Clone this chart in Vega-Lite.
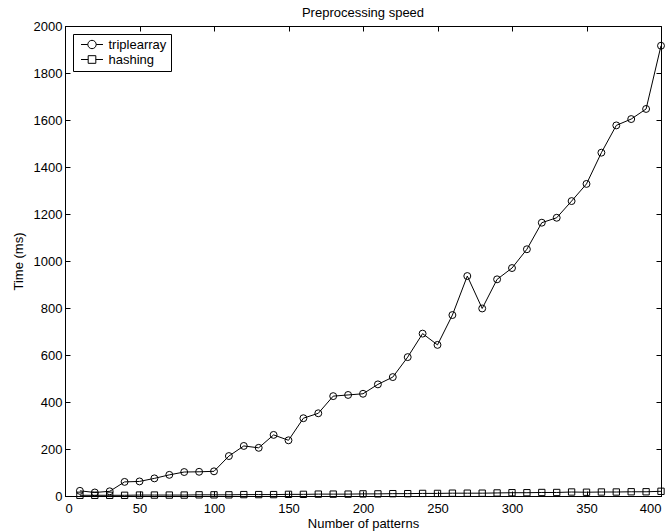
{
  "$schema": "https://vega.github.io/schema/vega-lite/v6.json",
  "width": 596,
  "height": 470,
  "autosize": {"type": "none"},
  "padding": {"left": 65, "top": 26, "right": 11, "bottom": 35},
  "title": {"text": "Preprocessing speed", "fontSize": 13, "font": "Liberation Sans", "fontWeight": "normal", "color": "black", "offset": 0},
  "config": {
    "font": "Liberation Sans",
    "view": {"stroke": "black", "strokeWidth": 1},
    "axis": {"labelFont": "Liberation Sans", "titleFont": "Liberation Sans", "labelFontSize": 13, "titleFontSize": 13, "titleFontWeight": "normal", "labelColor": "black", "titleColor": "black", "domainColor": "black", "tickColor": "black", "grid": false, "format": "d"}
  },
  "data": {"values": [
    {"n": 10, "t": 22, "s": "triplearray"},
    {"n": 20, "t": 15, "s": "triplearray"},
    {"n": 30, "t": 20, "s": "triplearray"},
    {"n": 40, "t": 60, "s": "triplearray"},
    {"n": 50, "t": 62, "s": "triplearray"},
    {"n": 60, "t": 75, "s": "triplearray"},
    {"n": 70, "t": 90, "s": "triplearray"},
    {"n": 80, "t": 102, "s": "triplearray"},
    {"n": 90, "t": 103, "s": "triplearray"},
    {"n": 100, "t": 105, "s": "triplearray"},
    {"n": 110, "t": 170, "s": "triplearray"},
    {"n": 120, "t": 213, "s": "triplearray"},
    {"n": 130, "t": 205, "s": "triplearray"},
    {"n": 140, "t": 260, "s": "triplearray"},
    {"n": 150, "t": 237, "s": "triplearray"},
    {"n": 160, "t": 331, "s": "triplearray"},
    {"n": 170, "t": 352, "s": "triplearray"},
    {"n": 180, "t": 425, "s": "triplearray"},
    {"n": 190, "t": 430, "s": "triplearray"},
    {"n": 200, "t": 435, "s": "triplearray"},
    {"n": 210, "t": 475, "s": "triplearray"},
    {"n": 220, "t": 506, "s": "triplearray"},
    {"n": 230, "t": 591, "s": "triplearray"},
    {"n": 240, "t": 691, "s": "triplearray"},
    {"n": 250, "t": 643, "s": "triplearray"},
    {"n": 260, "t": 770, "s": "triplearray"},
    {"n": 270, "t": 936, "s": "triplearray"},
    {"n": 280, "t": 798, "s": "triplearray"},
    {"n": 290, "t": 922, "s": "triplearray"},
    {"n": 300, "t": 970, "s": "triplearray"},
    {"n": 310, "t": 1050, "s": "triplearray"},
    {"n": 320, "t": 1163, "s": "triplearray"},
    {"n": 330, "t": 1184, "s": "triplearray"},
    {"n": 340, "t": 1255, "s": "triplearray"},
    {"n": 350, "t": 1328, "s": "triplearray"},
    {"n": 360, "t": 1461, "s": "triplearray"},
    {"n": 370, "t": 1577, "s": "triplearray"},
    {"n": 380, "t": 1604, "s": "triplearray"},
    {"n": 390, "t": 1647, "s": "triplearray"},
    {"n": 400, "t": 1916, "s": "triplearray"},
    {"n": 10, "t": 3, "s": "hashing"},
    {"n": 20, "t": 3, "s": "hashing"},
    {"n": 30, "t": 3, "s": "hashing"},
    {"n": 40, "t": 3, "s": "hashing"},
    {"n": 50, "t": 4, "s": "hashing"},
    {"n": 60, "t": 4, "s": "hashing"},
    {"n": 70, "t": 4, "s": "hashing"},
    {"n": 80, "t": 4, "s": "hashing"},
    {"n": 90, "t": 5, "s": "hashing"},
    {"n": 100, "t": 5, "s": "hashing"},
    {"n": 110, "t": 5, "s": "hashing"},
    {"n": 120, "t": 6, "s": "hashing"},
    {"n": 130, "t": 6, "s": "hashing"},
    {"n": 140, "t": 6, "s": "hashing"},
    {"n": 150, "t": 7, "s": "hashing"},
    {"n": 160, "t": 7, "s": "hashing"},
    {"n": 170, "t": 8, "s": "hashing"},
    {"n": 180, "t": 8, "s": "hashing"},
    {"n": 190, "t": 8, "s": "hashing"},
    {"n": 200, "t": 9, "s": "hashing"},
    {"n": 210, "t": 9, "s": "hashing"},
    {"n": 220, "t": 10, "s": "hashing"},
    {"n": 230, "t": 10, "s": "hashing"},
    {"n": 240, "t": 11, "s": "hashing"},
    {"n": 250, "t": 11, "s": "hashing"},
    {"n": 260, "t": 12, "s": "hashing"},
    {"n": 270, "t": 12, "s": "hashing"},
    {"n": 280, "t": 12, "s": "hashing"},
    {"n": 290, "t": 13, "s": "hashing"},
    {"n": 300, "t": 14, "s": "hashing"},
    {"n": 310, "t": 14, "s": "hashing"},
    {"n": 320, "t": 15, "s": "hashing"},
    {"n": 330, "t": 15, "s": "hashing"},
    {"n": 340, "t": 17, "s": "hashing"},
    {"n": 350, "t": 16, "s": "hashing"},
    {"n": 360, "t": 17, "s": "hashing"},
    {"n": 370, "t": 17, "s": "hashing"},
    {"n": 380, "t": 18, "s": "hashing"},
    {"n": 390, "t": 18, "s": "hashing"},
    {"n": 400, "t": 20, "s": "hashing"}
  ]},
  "encoding": {
    "x": {"field": "n", "type": "quantitative", "scale": {"domain": [0, 400], "nice": false}},
    "y": {"field": "t", "type": "quantitative", "scale": {"domain": [0, 2000], "nice": false}}
  },
  "layer": [
    {
      "mark": {"type": "line", "color": "black", "strokeWidth": 1},
      "encoding": {
        "detail": {"field": "s"},
        "x": {"field": "n", "type": "quantitative", "axis": {"title": "Number of patterns", "values": [0,50,100,150,200,250,300,350,400], "tickSize": -5, "labelPadding": 11, "titlePadding": 2, "domain": true}},
        "y": {"field": "t", "type": "quantitative", "axis": {"title": "Time (ms)", "values": [0,200,400,600,800,1000,1200,1400,1600,1800,2000], "tickSize": -5, "labelPadding": 8, "titlePadding": 8}}
      }
    },
    {
      "mark": {"type": "point", "filled": false, "color": "black", "strokeWidth": 1, "opacity": 1},
      "encoding": {
        "x": {"field": "n", "type": "quantitative", "axis": {"orient": "top", "labels": false, "title": null, "values": [0,50,100,150,200,250,300,350,400], "tickSize": -5, "domain": false}},
        "y": {"field": "t", "type": "quantitative", "axis": {"orient": "right", "labels": false, "title": null, "values": [0,200,400,600,800,1000,1200,1400,1600,1800,2000], "tickSize": -5, "domain": false}},
        "shape": {
          "field": "s", "type": "nominal",
          "scale": {"domain": ["triplearray", "hashing"], "range": ["circle", "square"]},
          "legend": null
        },
        "size": {"field": "s", "type": "nominal", "scale": {"domain": ["triplearray", "hashing"], "range": [48, 40]}, "legend": null}
      }
    },
    {
      "mark": {"type": "point", "opacity": 0, "filled": false, "color": "black"},
      "encoding": {
        "x": {"field": "n", "type": "quantitative", "axis": null},
        "y": {"field": "t", "type": "quantitative", "axis": null},
        "shape": {
          "field": "s", "type": "nominal",
          "scale": {"domain": ["triplearray", "hashing"], "range": [
            "M-2.44,0H-0.93A0.93,0.93 0 1 1 0.93,0A0.93,0.93 0 1 1 -0.93,0M0.93,0H2.44",
            "M-2.44,0H-0.85M-0.85,-0.85H0.85V0.85H-0.85ZM0.85,0H2.44"
          ]},
          "legend": {
            "title": null,
            "orient": "top-left",
            "offset": 8,
            "strokeColor": "black",
            "fillColor": "white",
            "padding": 4,
            "labelFontSize": 13,
            "labelColor": "black",
            "labelFont": "Liberation Sans",
            "labelOffset": 10,
            "symbolOffset": 8.5,
            "symbolSize": 81,
            "symbolStrokeWidth": 1,
            "symbolStrokeColor": "black",
            "symbolFillColor": "transparent",
            "symbolOpacity": 1,
            "rowPadding": 1
          }
        }
      }
    }
  ],
  "resolve": {"axis": {"x": "independent", "y": "independent"}, "scale": {"shape": "independent"}}
}
